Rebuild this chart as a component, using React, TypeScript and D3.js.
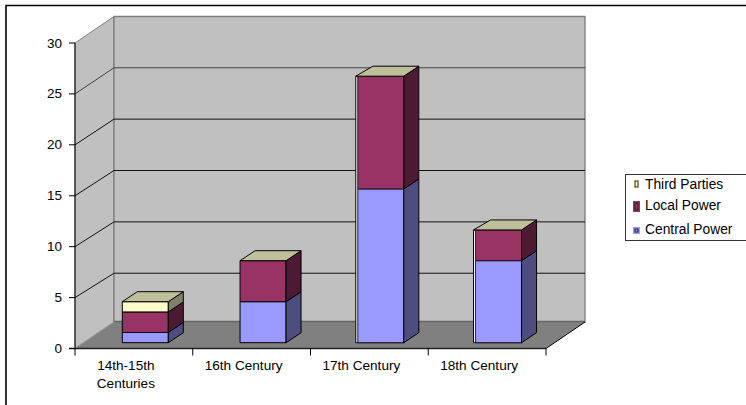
import React from "react";
import * as d3 from "d3";

const categories = ["14th-15th Centuries", "16th Century", "17th Century", "18th Century"];
const seriesNames = ["Central Power", "Local Power", "Third Parties"];
const centralPower = [1, 4, 15, 8];
const localPower = [2, 4, 11, 3];
const thirdParties = [1, 0, 0, 0];
const valueTicks = [0, 5, 10, 15, 20, 25, 30];

const frontColors = ["#9999FF", "#993366", "#FFFFCC"];
const sideColors = ["#4D4D80", "#4D1A33", "#808066"];
const topColor = "#BFBF99";
const legendOrder = [2, 1, 0];

const FONT = '"Liberation Sans", Arial, sans-serif';

export default function App() {
  const left = 75, right = 546, y0 = 348.5, y30 = 43;
  const dx = 39, dy = 26.5;
  const barDx = 15, barDy = 10;

  const y = d3.scaleLinear().domain([0, 30]).range([y0, y30]);
  // gridline heights where they meet the back wall
  const backY = d3.scaleLinear().domain([0, 30]).range([324.6, 16.4]);
  // bars stand a little way back from the front edge of the floor
  const barY = d3.scaleLinear().domain([0, 30]).range([342.7, 35.2]);
  const x = d3.scaleBand<string>().domain(categories).range([left, right]);
  const barW = 46;
  const barStart = (i: number) => (x(categories[i]) as number) + 47.3;

  const stack = d3.stack<number>()
    .keys([0, 1, 2].map(String))
    .value((i, k) => [centralPower, localPower, thirdParties][+k][i])(d3.range(categories.length));

  const pts = (p: [number, number][]) => p.map((q) => q.join(",")).join(" ");
  const edges = d3.range(categories.length + 1).map((i) => left + i * x.bandwidth());

  return (
    <svg width={746} height={405} style={{ position: "absolute", left: 0, top: 0, background: "#fff" }} fontFamily={FONT}>
      {/* outer chart frame */}
      <path d="M6 405V5.5H746" fill="none" stroke="#000" strokeWidth={1.6} />

      {/* side wall, back wall and floor */}
      <polygon points={pts([[left, y30], [left + dx, y30 - dy], [left + dx, y0 - dy], [left, y0]])} fill="#C0C0C0" stroke="#808080" strokeWidth={1} />
      <polygon points={pts([[left + dx, y30 - dy], [right + dx, y30 - dy], [right + dx, y0 - dy], [left + dx, y0 - dy]])} fill="#C0C0C0" stroke="#808080" strokeWidth={1.4} />

      {/* gridlines across both walls */}
      {valueTicks.slice(1, -1).map((t) => (
        <polyline key={t} fill="none" stroke={t === 25 ? "#444" : "#111"} strokeWidth={1}
          points={pts([[left, y(t)], [left + dx, backY(t)], [right + dx, backY(t)]])} />
      ))}

      <polygon points={pts([[left, y0], [left + dx, y0 - dy], [right + dx, y0 - dy], [right, y0]])} fill="#808080" />
      <line x1={left + dx} x2={right + dx} y1={y0 - dy - 0.5} y2={y0 - dy - 0.5} stroke="#666" strokeWidth={1.5} />
      <line x1={right} x2={right + dx} y1={y0} y2={y0 - dy} stroke="#000" strokeWidth={1} />
      <line x1={left} x2={left + dx} y1={y0} y2={y0 - dy} stroke="#999" strokeWidth={1} />

      {/* stacked 3-D bars */}
      {categories.map((c, i) => {
        const bx = barStart(i);
        const total = stack[2][i][1];
        const topY = barY(total);
        return (
          <g key={c} stroke="#000" strokeWidth={1} strokeLinejoin="round">
            {i >= 2 && (
              <rect x={bx - 2} y={topY} width={barW + 2} height={barY(0) - topY} fill="#fff" />
            )}
            {stack.map((s, k) => {
              const [a, b] = s[i];
              if (a === b) return null;
              const yb = barY(a), yt = barY(b);
              return (
                <g key={k}>
                  <rect x={bx} y={yt} width={barW} height={yb - yt} fill={frontColors[k]} strokeWidth={i >= 2 ? 0.8 : 1} />
                  <polygon fill={sideColors[k]} points={pts([[bx + barW, yt], [bx + barW + barDx, yt - barDy], [bx + barW + barDx, yb - barDy], [bx + barW, yb]])} />
                </g>
              );
            })}
            <polygon fill={topColor} points={pts([[i >= 2 ? bx - 2 : bx, topY], [bx + barDx, topY - barDy], [bx + barW + barDx, topY - barDy], [bx + barW, topY]])} />
          </g>
        );
      })}

      {/* axis lines and ticks */}
      <line x1={left} x2={left} y1={y30} y2={y0} stroke="#000" strokeWidth={1} />
      <line x1={left - 6} x2={right} y1={y0} y2={y0} stroke="#222" strokeWidth={1.4} />
      {valueTicks.map((t) => (
        <g key={t}>
          <line x1={left - 6} x2={left} y1={y(t)} y2={y(t)} stroke="#000" strokeWidth={1} />
          <text x={62} y={y(t) + 4.5} textAnchor="end" fontSize={13.5} fill="#000">{t}</text>
        </g>
      ))}
      {edges.map((e) => (
        <line key={e} x1={e} x2={e} y1={y0} y2={y0 + 7} stroke="#000" strokeWidth={1} />
      ))}
      {categories.map((c, i) => {
        const cx = (x(c) as number) + x.bandwidth() / 2;
        const lines = i === 0 ? ["14th-15th", "Centuries"] : [c];
        return lines.map((l, j) => (
          <text key={l} x={cx - 8} y={370 + j * 18} textAnchor="middle" fontSize={13.6} fill="#000">{l}</text>
        ));
      })}

      {/* legend */}
      <rect x={625.5} y={174.5} width={125} height={66} fill="#fff" stroke="#333" strokeWidth={1} />
      {legendOrder.map((k, j) => {
        const ty = [189, 210, 234][j];
        const box = [[633, 179, 7, 10], [633, 201, 7, 11], [633, 227, 7, 7]][j];
        return (
          <g key={k}>
            <rect x={box[0]} y={box[1]} width={box[2]} height={box[3]} fill={frontColors[k]} />
            <rect x={box[0] + 2} y={box[1] + 2} width={box[2] - 4} height={box[3] - 4} fill={frontColors[k]} stroke="#222" strokeWidth={1} />
            <text x={645} y={ty} fontSize={13.8} fill="#000">{seriesNames[k]}</text>
          </g>
        );
      })}
    </svg>
  );
}
